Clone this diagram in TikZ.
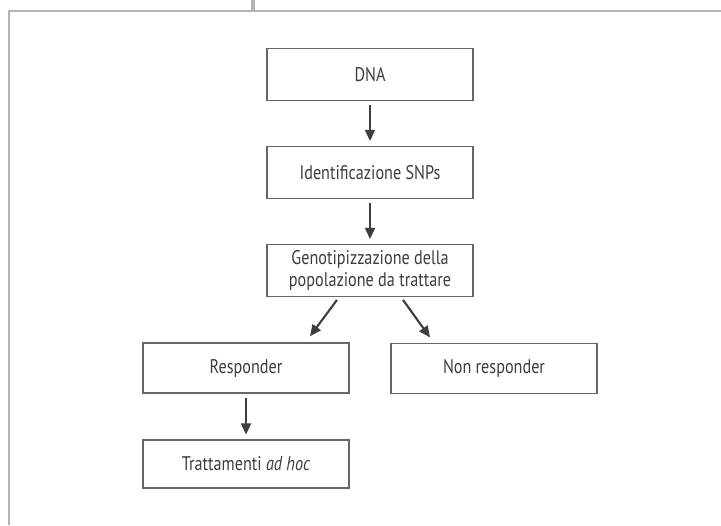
\documentclass[tikz,border=0pt]{standalone}
\usepackage{fontspec}
\setmainfont{PT Sans}[FakeStretch=0.82]
\usetikzlibrary{arrows.meta}
\definecolor{framegray}{HTML}{B4B4B4}
\definecolor{boxgray}{HTML}{666666}
\definecolor{textgray}{HTML}{3C3C3C}
\definecolor{arrowgray}{HTML}{3E3E3E}
\tikzset{
  stepbox/.style={draw=boxgray, line width=1.1pt, minimum width=154.5pt,
    minimum height=39pt, align=center, text=textgray, font=\fontsize{14.8}{17}\selectfont},
  flow/.style={draw=arrowgray, line width=1.6pt,
    -{Triangle[width=7.5pt,length=8.5pt]}},
}
\begin{document}
\begin{tikzpicture}[x=0.75pt,y=-0.75pt]
  \useasboundingbox (0,0) rectangle (721,525);
  % frame
  \draw[framegray, line width=1.6pt] (9,525) -- (9,11) -- (721,11);
  \draw[framegray, line width=3pt] (252.5,0) -- (252.5,11);
  % boxes
  \node[stepbox] (dna) at (370,74.5) {DNA};
  \node[stepbox] (snp) at (370,172.5) {Identificazione SNPs};
  \node[stepbox] (geno) at (370,270.5) {Genotipizzazione della\\popolazione da trattare};
  \node[stepbox, minimum height=37.5pt] (resp) at (246,368) {Responder};
  \node[stepbox, minimum height=37.5pt] (nonresp) at (494,368.5) {Non responder};
  \node[stepbox, minimum height=36pt] (tratt) at (246,464) {Trattamenti \textit{ad hoc}};
  % arrows
  \draw[flow, shorten <=3pt, shorten >=3.5pt] (dna) -- (snp);
  \draw[flow, shorten <=3pt, shorten >=3.5pt] (snp) -- (geno);
  \draw[flow] ([xshift=-24.75pt,yshift=-2pt]geno.south) -- ([xshift=48pt,yshift=4.5pt]resp.north);
  \draw[flow] ([xshift=24.75pt,yshift=-2pt]geno.south) -- ([xshift=-48pt,yshift=4pt]nonresp.north);
  \draw[flow, shorten <=3pt, shorten >=3.5pt] (resp) -- (tratt);
\end{tikzpicture}
\end{document}
